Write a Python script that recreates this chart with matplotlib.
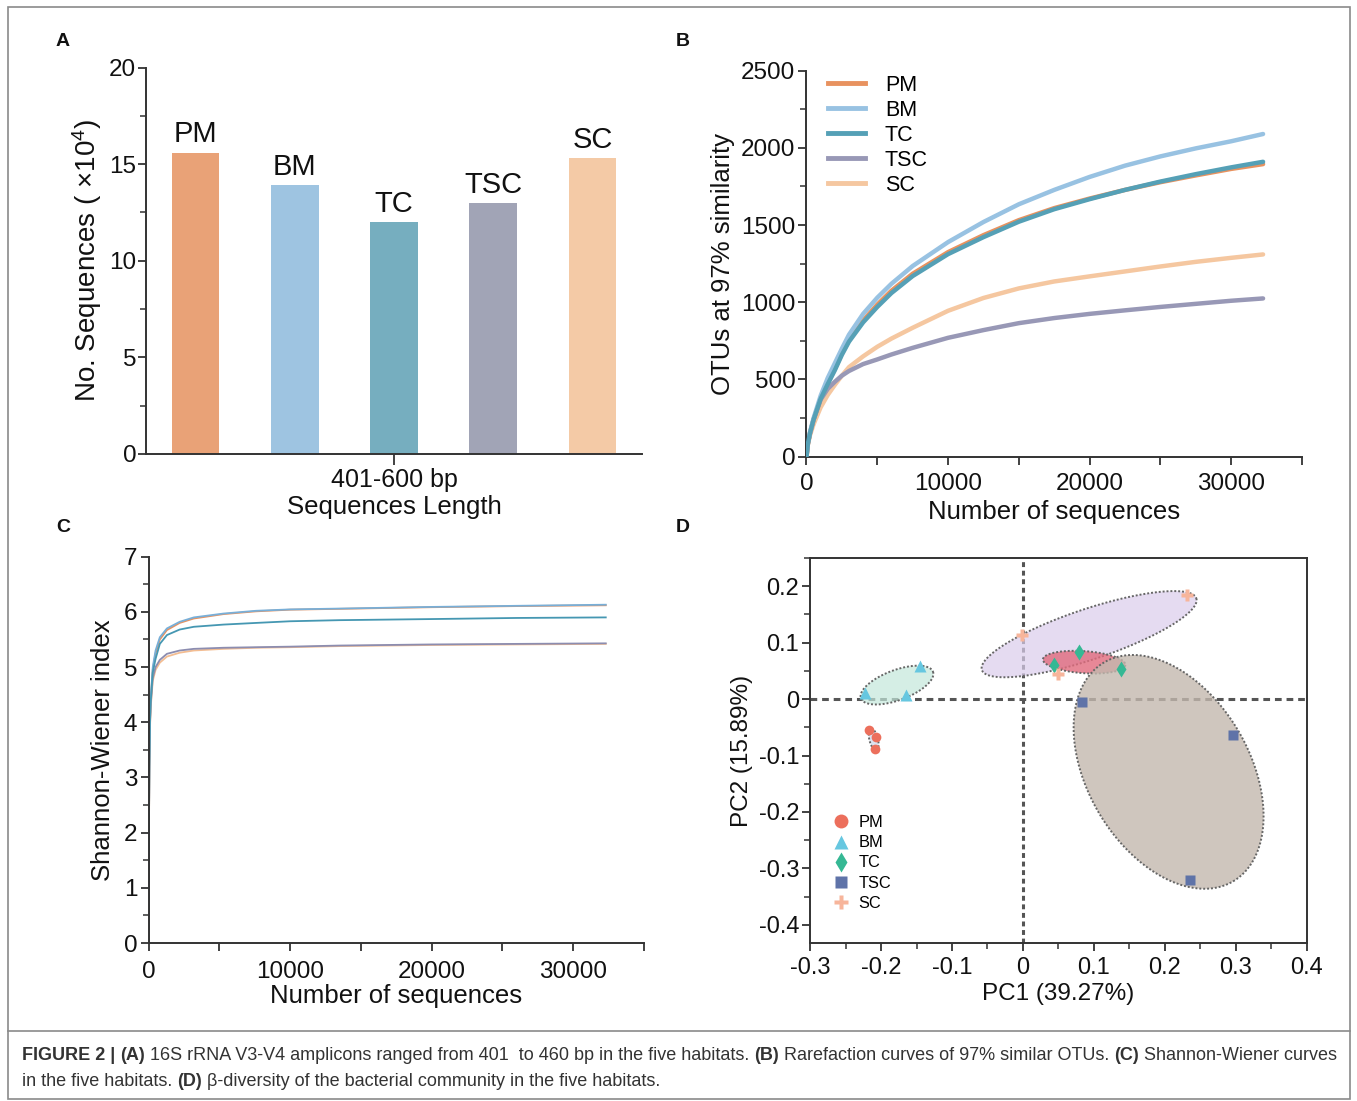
import numpy as np
import matplotlib
matplotlib.use("Agg")
import matplotlib.pyplot as plt
from matplotlib.patches import Polygon, Rectangle
from matplotlib.lines import Line2D
from matplotlib.ticker import MultipleLocator, FuncFormatter

plt.rcParams['font.family'] = ['Liberation Sans', 'DejaVu Sans']
plt.rcParams['mathtext.fontset'] = 'custom'
plt.rcParams['mathtext.rm'] = 'Liberation Sans'
plt.rcParams['mathtext.it'] = 'Liberation Sans:italic'
plt.rcParams['axes.unicode_minus'] = False

# ---------------- data ----------------
groups = ['PM', 'BM', 'TC', 'TSC', 'SC']
# Panel A: number of sequences (x10^4)
seq_counts = [15.6, 13.9, 12.0, 13.0, 15.3]
length_label = ['401-600 bp']

# Panel B: rarefaction curves (OTUs at 97% similarity)
rare_x = [0, 100, 250, 500, 1000, 1500, 2000, 2500, 3000, 4000, 5000, 6000,
          7500, 10000, 12500, 15000, 17500, 20000, 22500, 25000, 27500, 30000, 32250]
rare_PM = [0, 85, 155, 240, 378, 475, 568, 668, 755, 882, 985, 1075,
           1185, 1325, 1435, 1532, 1610, 1672, 1728, 1778, 1822, 1864, 1895]
rare_BM = [0, 90, 160, 250, 395, 510, 605, 700, 790, 925, 1030, 1120,
           1235, 1390, 1520, 1635, 1728, 1812, 1885, 1945, 1997, 2043, 2090]
rare_TC = [0, 85, 155, 240, 375, 470, 560, 660, 745, 870, 970, 1060,
           1170, 1312, 1422, 1522, 1603, 1668, 1728, 1782, 1830, 1874, 1910]
rare_TSC = [0, 85, 150, 240, 370, 440, 485, 525, 555, 600, 630, 662,
            705, 770, 820, 865, 898, 925, 948, 970, 990, 1010, 1025]
rare_SC = [0, 80, 140, 210, 320, 400, 465, 525, 580, 650, 712, 765,
           835, 945, 1028, 1090, 1135, 1168, 1200, 1232, 1262, 1288, 1310]

# Panel C: Shannon-Wiener curves
sh_x = [0, 30, 60, 100, 150, 300, 500, 800, 1300, 2200, 3200, 5300, 7600,
        10000, 13500, 20000, 26000, 32300]
sh_PM = [0, 2.0, 3.2, 3.95, 4.38, 4.95, 5.25, 5.50, 5.67, 5.80, 5.88, 5.96,
         6.01, 6.04, 6.055, 6.085, 6.105, 6.12]
sh_BM = [0, 2.0, 3.3, 4.0, 4.40, 5.00, 5.30, 5.54, 5.70, 5.82, 5.90, 5.97,
         6.02, 6.045, 6.06, 6.09, 6.11, 6.13]
sh_TC = [0, 2.0, 3.2, 3.95, 4.35, 4.90, 5.15, 5.42, 5.58, 5.68, 5.73, 5.77,
         5.80, 5.83, 5.85, 5.87, 5.89, 5.90]
sh_TSC = [0, 2.0, 3.2, 3.9, 4.30, 4.80, 5.00, 5.13, 5.24, 5.30, 5.33, 5.35,
          5.36, 5.37, 5.39, 5.41, 5.42, 5.43]
sh_SC = [0, 1.9, 3.1, 3.85, 4.25, 4.75, 4.95, 5.08, 5.19, 5.26, 5.30, 5.33,
         5.35, 5.36, 5.38, 5.40, 5.41, 5.42]

# Panel D: PCoA coordinates
pc_PM = ([-0.2165, -0.2067, -0.2079], [-0.0554, -0.0672, -0.0885])
pc_BM = ([-0.2223, -0.1647, -0.1446], [0.0108, 0.0067, 0.0593])
pc_TC = ([0.0442, 0.0793, 0.1380], [0.0611, 0.0830, 0.0534])
pc_TSC = ([0.0840, 0.2958, 0.2359], [-0.0045, -0.0630, -0.3200])
pc_SC = ([-0.0012, 0.0489, 0.2308], [0.1131, 0.0451, 0.1852])
# group ellipses: centre, conjugate semi-axis vectors (data units)
ell_centre = {'PM': (-0.2105, -0.0715), 'BM': (-0.1776, 0.0248),
              'TC': (0.0864, 0.0654), 'TSC': (0.2055, -0.129),
              'SC': (0.0934, 0.115)}
ell_u = {'PM': (0.0035, -0.019), 'BM': (0.0508, 0.0236), 'TC': (0.0581, -0.005),
         'TSC': (0.0911, -0.1939), 'SC': (0.1512, 0.0635)}
ell_v = {'PM': (0.006, 0.001), 'BM': (0.0073, -0.025), 'TC': (-0.001, -0.0195),
         'TSC': (0.0982, 0.0729), 'SC': (0.0113, -0.0424)}

# ---------------- style ----------------
bar_colors = ['#E9A277', '#9EC4E1', '#76AEBF', '#A1A4B6', '#F4CAA6']
line_colors = {'PM': '#E8925F', 'BM': '#98C2E2', 'TC': '#55A0B6',
               'TSC': '#9898B6', 'SC': '#F5C7A0'}
thin_colors = {'PM': '#E8925F', 'BM': '#78AFD8', 'TC': '#4597B2',
               'TSC': '#8C8DB0', 'SC': '#F3BD92'}
pt_colors = {'PM': '#EC6F5C', 'BM': '#66C7E0', 'TC': '#35B894',
             'TSC': '#5F73A8', 'SC': '#F7B59B'}
pt_markers = {'PM': 'o', 'BM': '^', 'TC': 'd', 'TSC': 's', 'SC': 'P'}
ell_fill = {'PM': ('#D9DFEE', 0.9), 'BM': ('#C4E8DB', 0.7), 'TC': ('#E16B7D', 0.8),
            'TSC': ('#C3B8AE', 0.8), 'SC': ('#DBCDEC', 0.7)}
ell_z = {'PM': 1, 'BM': 1, 'SC': 1, 'TC': 2, 'TSC': 3}

AXC = '#333333'
W, H = 1357, 1101
fig = plt.figure(figsize=(W / 100, H / 100), dpi=100)
fig.patch.set_facecolor('white')


def ax_at(l, t, r, b):
    return fig.add_axes([l / W, 1 - b / H, (r - l) / W, (b - t) / H])


def style_axes(ax, tsize, box=False):
    for s in ['top', 'right']:
        ax.spines[s].set_visible(box)
    for s in ax.spines.values():
        s.set_linewidth(1.4)
        s.set_color(AXC)
    ax.tick_params(which='major', direction='out', length=6, width=1.3,
                   color=AXC, labelsize=tsize, pad=2, labelcolor='#111111')
    ax.tick_params(which='minor', direction='out', length=4.5, width=1.1, color=AXC)


# ---------------- Panel A ----------------
axA = ax_at(146, 67.6, 642, 454)
xs = np.arange(len(groups))
axA.bar(xs, seq_counts, width=0.48, color=bar_colors, zorder=2)
for i, (g, v) in enumerate(zip(groups, seq_counts)):
    axA.annotate(g, (i, v), xytext=(0, 3), textcoords='offset points',
                 ha='center', va='bottom', fontsize=21, color='#111111')
axA.set_xlim(-0.5, 4.5)
axA.set_ylim(0, 20)
axA.set_yticks([0, 5, 10, 15, 20])
axA.yaxis.set_minor_locator(MultipleLocator(2.5))
axA.set_xticks([2])
axA.set_xticklabels(length_label)
style_axes(axA, 17.5)
axA.tick_params(axis='y', pad=1)
axA.tick_params(axis='x', labelsize=18, length=8)
axA.set_xlabel('Sequences Length', fontsize=18.5, labelpad=2, color='#111111')
axA.set_ylabel('No. Sequences ( ×10$^{4}$)', fontsize=20, labelpad=4, color='#111111')

# ---------------- Panel B ----------------
axB = ax_at(806.5, 70.7, 1302, 456.7)
rare = {'PM': rare_PM, 'BM': rare_BM, 'TC': rare_TC, 'TSC': rare_TSC, 'SC': rare_SC}
for g in ['SC', 'TSC', 'TC', 'PM', 'BM']:
    z = 3 if g == 'TC' else 2
    axB.plot(rare_x, rare[g], color=line_colors[g], lw=3.2, solid_capstyle='round',
             solid_joinstyle='round', zorder=z)
axB.set_xlim(0, 35000)
axB.set_ylim(0, 2500)
axB.set_xticks([0, 10000, 20000, 30000])
axB.xaxis.set_minor_locator(MultipleLocator(5000))
axB.set_yticks([0, 500, 1000, 1500, 2000, 2500])
axB.yaxis.set_minor_locator(MultipleLocator(250))
style_axes(axB, 17.5)
axB.tick_params(axis='x', which='major', pad=6)
axB.tick_params(axis='x', which='minor', length=6, width=1.3)
axB.set_xlabel('Number of sequences', fontsize=18.5, labelpad=3, color='#111111')
axB.set_ylabel('OTUs at 97% similarity', fontsize=18.5, labelpad=4, color='#111111')
handles = [Line2D([], [], color=line_colors[g], lw=3.5) for g in groups]
axB.legend(handles, groups, loc='upper left', bbox_to_anchor=(0.043, 0.99),
           frameon=False, fontsize=15.5, handlelength=1.75, handletextpad=0.9,
           labelspacing=0.19, borderaxespad=0, borderpad=0)

# ---------------- Panel C ----------------
axC = ax_at(148.5, 556.7, 644, 943)
sh = {'PM': sh_PM, 'BM': sh_BM, 'TC': sh_TC, 'TSC': sh_TSC, 'SC': sh_SC}
for g in ['SC', 'TSC', 'PM', 'BM', 'TC']:
    axC.plot(sh_x, sh[g], color=thin_colors[g], lw=1.3)
axC.set_xlim(0, 35000)
axC.set_ylim(0, 7)
axC.set_xticks([0, 10000, 20000, 30000])
axC.xaxis.set_minor_locator(MultipleLocator(5000))
axC.set_yticks(range(8))
axC.yaxis.set_minor_locator(MultipleLocator(0.5))
style_axes(axC, 17.5)
axC.tick_params(axis='x', which='major', pad=7)
axC.tick_params(axis='x', which='minor', length=6, width=1.3)
axC.set_xlabel('Number of sequences', fontsize=18.5, labelpad=1, color='#111111')
axC.set_ylabel('Shannon-Wiener index', fontsize=18.5, labelpad=6, color='#111111')

# ---------------- Panel D ----------------
axD = ax_at(810.2, 558, 1306.5, 943.3)
axD.set_xlim(-0.3, 0.4)
axD.set_ylim(-0.4328, 0.25)
axD.axhline(0, color='#555555', lw=2.2, ls=(0, (2.2, 1.6)), zorder=0.5)
axD.axvline(0, color='#555555', lw=2.2, ls=(0, (1.6, 1.2)), zorder=0.5)
t = np.linspace(0, 2 * np.pi, 240)
for g in ['SC', 'BM', 'PM', 'TC', 'TSC']:
    c = np.array(ell_centre[g])
    u = np.array(ell_u[g])
    v = np.array(ell_v[g])
    pts = c + np.outer(np.cos(t), u) + np.outer(np.sin(t), v)
    col, al = ell_fill[g]
    axD.add_patch(Polygon(pts, closed=True, facecolor=col, alpha=al,
                          edgecolor='none', zorder=ell_z[g]))
    axD.add_patch(Polygon(pts, closed=True, facecolor='none', edgecolor='#666666',
                          lw=1.4, ls=(0, (1, 1)), zorder=ell_z[g] + 0.1))
pcs = {'PM': pc_PM, 'BM': pc_BM, 'TC': pc_TC, 'TSC': pc_TSC, 'SC': pc_SC}
msz = {'PM': 7, 'BM': 8, 'TC': 8, 'TSC': 6.5, 'SC': 8}
for g in groups:
    axD.plot(pcs[g][0], pcs[g][1], ls='none', marker=pt_markers[g], ms=msz[g],
             color=pt_colors[g], mec='none', zorder=6)
axD.set_xticks(np.round(np.arange(-0.3, 0.41, 0.1), 2))
axD.xaxis.set_minor_locator(MultipleLocator(0.05))
axD.set_yticks(np.round(np.arange(-0.4, 0.21, 0.1), 2))
axD.yaxis.set_minor_locator(MultipleLocator(0.05))
fmt = FuncFormatter(lambda val, pos: '0' if abs(val) < 1e-9 else f'{val:.1f}')
axD.xaxis.set_major_formatter(fmt)
axD.yaxis.set_major_formatter(fmt)
style_axes(axD, 17, box=True)
axD.tick_params(axis='x', which='major', pad=4)
axD.set_xlabel('PC1 (39.27%)', fontsize=17.5, labelpad=3, color='#111111')
axD.set_ylabel('PC2 (15.89%)', fontsize=17.5, labelpad=4, color='#111111')
lh = [Line2D([], [], ls='none', marker=pt_markers[g], ms=10 if g != 'TSC' else 8.5,
             color=pt_colors[g], mec='none') for g in groups]
axD.legend(lh, groups, loc='upper left', bbox_to_anchor=(0.045, 0.333),
           frameon=False, fontsize=11.8, handlelength=1.0, handletextpad=0.6,
           labelspacing=0.32, borderaxespad=0, borderpad=0)

# ---------------- panel letters ----------------
for lab, (px, py) in zip('ABCD', [(63, 42), (683, 42), (63, 527), (683, 527)]):
    fig.text(px / W, 1 - py / H, lab, fontsize=14, fontweight='bold',
             ha='center', va='center', color='#111111')

# ---------------- frame & caption ----------------
fig.add_artist(Rectangle((8 / W, 1 - 1099 / H), (1350 - 8) / W, (1099 - 7) / H,
                         transform=fig.transFigure, fill=False, ec='#8a8a8a', lw=1.2))
fig.add_artist(Line2D([8 / W, 1350 / W], [1 - 1031 / H, 1 - 1031 / H],
                      transform=fig.transFigure, color='#8a8a8a', lw=1.2))

cap1 = [("FIGURE 2 | ", True), ("(A)", True),
        (" 16S rRNA V3-V4 amplicons ranged from 401  to 460 bp in the five habitats. ", False),
        ("(B)", True), (" Rarefaction curves of 97% similar OTUs. ", False),
        ("(C)", True), (" Shannon-Wiener curves", False)]
cap2 = [("in the five habitats. ", False), ("(D)", True),
        (" β-diversity of the bacterial community in the five habitats.", False)]

renderer = fig.canvas.get_renderer()


def draw_line(segs, x_px, y_px, size, draw=True):
    x = x_px
    arts = []
    for txt, bold in segs:
        tt = fig.text(x / W, 1 - y_px / H, txt, fontsize=size,
                      fontweight='bold' if bold else 'normal',
                      ha='left', va='center', color='#333333')
        bb = tt.get_window_extent(renderer)
        x += bb.width
        arts.append(tt)
    if not draw:
        for a in arts:
            a.remove()
    return x - x_px


w0 = draw_line(cap1, 22, 1056, 12, draw=False)
cap_size = 12 * (1313 / w0)
draw_line(cap1, 22, 1056, cap_size)
draw_line(cap2, 22, 1081, cap_size)

fig.savefig('out.png', dpi=100, facecolor='white')
